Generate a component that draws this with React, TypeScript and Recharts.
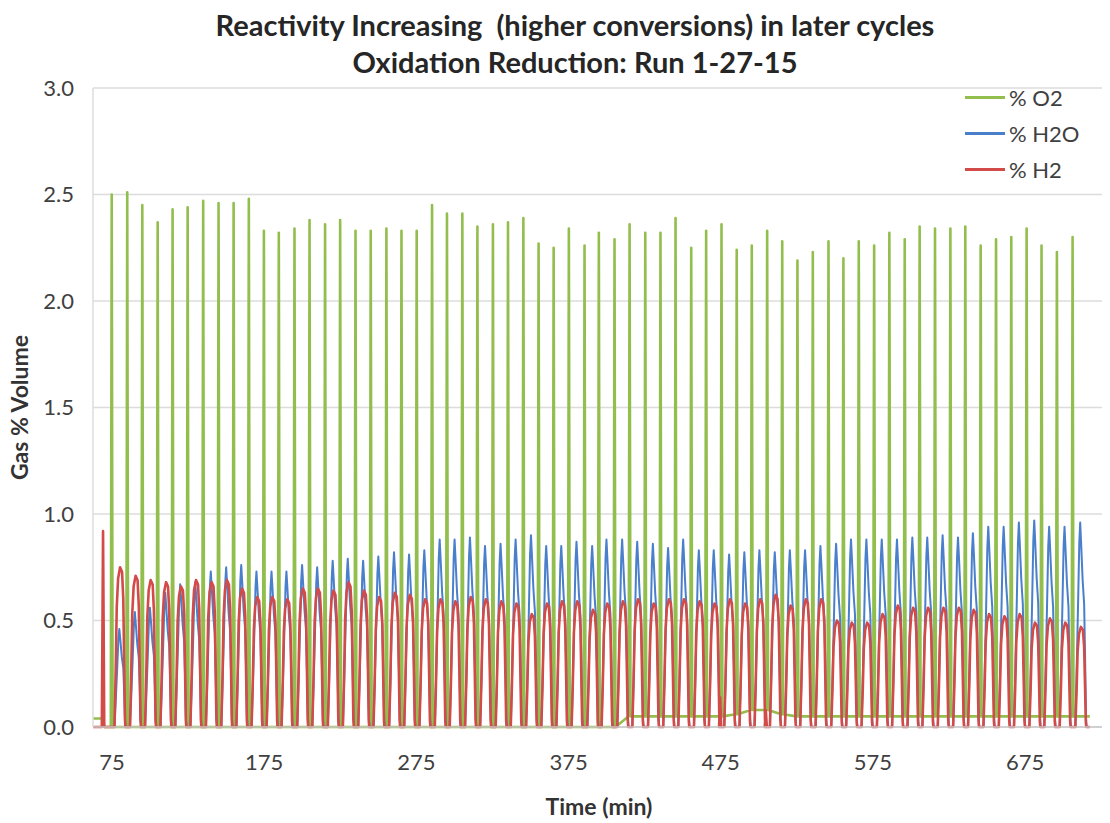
import React from 'react';
import { LineChart, Line, XAxis, YAxis, CartesianGrid } from 'recharts';

// Times (min) of each O2 pulse
const CYCLE_T = [
  74.8, 85.0, 94.9, 105.0, 114.8, 124.7, 134.9, 145.0, 154.9, 164.9, 174.8, 184.6, 194.9, 204.8, 215.0, 224.9,
  235.0, 245.0, 255.3, 265.2, 275.2, 285.3, 295.1, 305.2, 315.1, 325.3, 335.2, 345.3, 355.3, 365.2, 375.2, 385.5, 394.9,
  405.2, 415.1, 425.4, 435.4, 445.3, 455.6, 465.4, 475.5, 485.5, 495.4, 505.5, 515.4, 525.4, 535.5, 545.8, 555.6,
  565.7, 575.8, 585.8, 595.9, 605.7, 615.8, 625.9, 635.7, 645.8, 655.9, 665.9, 676.0, 685.8, 695.9, 706.2,
];

// Peak heights per cycle (% volume)
const O2_PEAK = [
  2.5, 2.51, 2.45, 2.37, 2.43, 2.44, 2.47, 2.46, 2.46, 2.48, 2.33, 2.32, 2.34, 2.38, 2.36, 2.38,
  2.33, 2.33, 2.34, 2.33, 2.33, 2.45, 2.41, 2.41, 2.35, 2.36, 2.37, 2.39, 2.27, 2.25, 2.34, 2.26, 2.32,
  2.29, 2.36, 2.32, 2.32, 2.39, 2.25, 2.33, 2.36, 2.24, 2.26, 2.33, 2.28, 2.19, 2.23, 2.28, 2.2,
  2.28, 2.26, 2.32, 2.29, 2.35, 2.34, 2.34, 2.35, 2.26, 2.29, 2.3, 2.34, 2.26, 2.23, 2.3,
];
const O2_BASE = [
  0, 0, 0, 0, 0, 0, 0, 0, 0, 0, 0, 0, 0, 0, 0, 0,
  0, 0, 0, 0, 0, 0, 0, 0, 0, 0, 0, 0, 0, 0, 0, 0, 0,
  0, 0.05, 0.05, 0.05, 0.05, 0.05, 0.05, 0.05, 0.06, 0.08, 0.08, 0.06, 0.05, 0.05, 0.05, 0.05,
  0.05, 0.05, 0.05, 0.05, 0.05, 0.05, 0.05, 0.05, 0.05, 0.05, 0.05, 0.05, 0.05, 0.05, 0.05,
];
const H2O_PEAK = [
  0.46, 0.54, 0.56, 0.63, 0.67, 0.68, 0.73, 0.75, 0.76, 0.73, 0.73, 0.73, 0.76, 0.75, 0.78, 0.79, 0.78, 0.8,
  0.82, 0.81, 0.83, 0.88, 0.88, 0.89, 0.85, 0.86, 0.88, 0.9, 0.85, 0.85, 0.87, 0.85, 0.88, 0.88, 0.87, 0.86, 0.84, 0.88, 0.83, 0.83, 0.81,
  0.82, 0.83, 0.82, 0.83, 0.83, 0.85, 0.86, 0.88, 0.88, 0.88, 0.88, 0.89, 0.89, 0.9, 0.89, 0.91, 0.94, 0.94, 0.96, 0.97, 0.94, 0.94, 0.96,
];
const H2_PEAK = [
  0.75, 0.71, 0.69, 0.68, 0.66, 0.69, 0.68, 0.69, 0.65, 0.61, 0.61, 0.6, 0.65, 0.65, 0.64, 0.68, 0.64, 0.61,
  0.63, 0.62, 0.6, 0.6, 0.59, 0.61, 0.6, 0.59, 0.58, 0.53, 0.58, 0.59, 0.59, 0.55, 0.58, 0.59, 0.6, 0.58, 0.6, 0.6, 0.59, 0.58, 0.6,
  0.58, 0.6, 0.62, 0.57, 0.6, 0.6, 0.5, 0.49, 0.49, 0.53, 0.57, 0.56, 0.56, 0.56, 0.56, 0.55, 0.53, 0.52, 0.53, 0.49, 0.51, 0.49, 0.47,
];
// Start-up H2 spike and small H2 bumps near some O2 pulses
const H2_SPIKE = { t: 69.1, v: 0.92 };
const H2_BUMPS: [number, number][] = [[40, 0.14], [43, 0.08]];

// Cycle profile read from one period (min after the O2 pulse, fraction of peak)
const O2_SHAPE_T = [-0.6, 0, 0.6];
const H2O_SHAPE_T = [1.8, 2.6, 3.6, 4.4, 5.0, 5.6, 6.6, 7.6, 8.2, 8.8, 9.2];
const H2O_SHAPE_F = [0, 0.25, 0.6, 0.9, 1.0, 0.9, 0.72, 0.6, 0.35, 0.05, 0];
const H2_SHAPE_T = [1.8, 2.6, 3.3, 4.2, 5.5, 6.8, 7.6, 8.2, 8.7, 9.0];
const H2_SHAPE_F = [0, 0.35, 0.75, 0.93, 1.0, 0.97, 0.8, 0.4, 0.05, 0];

const X_DOMAIN: [number, number] = [62.5, 727.5];
const X_TICKS = [75, 175, 275, 375, 475, 575, 675];
const Y_TICKS = [0, 0.5, 1, 1.5, 2, 2.5, 3];

const GREEN = '#92BE4E';
const BLUE = '#4A7FCB';
const RED = '#D24B48';

type P = { t: number; v: number };

function buildO2(): P[] {
  const out: P[] = [{ t: 62.5, v: 0.04 }, { t: 69, v: 0.04 }, { t: 70, v: 0 }];
  CYCLE_T.forEach((t0, i) => {
    out.push({ t: t0 + O2_SHAPE_T[0], v: O2_BASE[i] });
    out.push({ t: t0 + O2_SHAPE_T[1], v: O2_PEAK[i] });
    out.push({ t: t0 + O2_SHAPE_T[2], v: O2_BASE[i] });
  });
  out.push({ t: 717.5, v: 0.05 });
  return out;
}

function buildH2O(): P[] {
  const out: P[] = [{ t: 62.5, v: 0 }];
  CYCLE_T.forEach((t0, i) => {
    H2O_SHAPE_T.forEach((dt, j) => out.push({ t: t0 + dt, v: H2O_PEAK[i] * H2O_SHAPE_F[j] }));
  });
  out.push({ t: 717.5, v: 0 });
  return out;
}

function buildH2(): P[] {
  const out: P[] = [
    { t: 62.5, v: 0 },
    { t: H2_SPIKE.t - 0.8, v: 0 },
    { t: H2_SPIKE.t, v: H2_SPIKE.v },
    { t: H2_SPIKE.t + 0.8, v: 0 },
  ];
  const bumps = new Map(H2_BUMPS);
  CYCLE_T.forEach((t0, i) => {
    if (bumps.has(i)) {
      out.push({ t: t0 - 1.6, v: 0 });
      out.push({ t: t0 - 0.9, v: bumps.get(i) as number });
      out.push({ t: t0 - 0.2, v: 0 });
    }
    H2_SHAPE_T.forEach((dt, j) => out.push({ t: t0 + dt, v: H2_PEAK[i] * H2_SHAPE_F[j] }));
  });
  out.push({ t: 717.5, v: 0 });
  return out;
}

const SERIES = [
  { name: '% O2', color: GREEN, data: buildO2(), width: 2.6 },
  { name: '% H2O', color: BLUE, data: buildH2O(), width: 2 },
  { name: '% H2', color: RED, data: buildH2(), width: 2.6 },
];

const FONT = 'Lato, "Open Sans", sans-serif';

const LegendBox = () => (
  <div
    style={{
      position: 'absolute', top: 79, left: 965, width: 140,
      fontFamily: FONT, fontSize: 22, color: '#404040',
    }}
  >
    {SERIES.map((s) => (
      <div key={s.name} style={{ display: 'flex', alignItems: 'center', height: 36 }}>
        <div style={{ width: 40, height: 3, background: s.color, marginRight: 4 }} />
        <span>{s.name}</span>
      </div>
    ))}
  </div>
);

export default function App() {
  return (
    <div
      style={{
        position: 'relative', width: 1110, height: 823, margin: '-8px 0 0 -8px',
        fontFamily: FONT, background: '#fff', overflow: 'hidden',
      }}
    >
      <div
        style={{
          position: 'absolute', top: 6, left: 0, width: 1150, textAlign: 'center',
          fontWeight: 700, fontSize: 29, color: '#262626', lineHeight: '37px',
        }}
      >
        <div>Reactivity Increasing&nbsp; (higher conversions) in later cycles</div>
        <div>Oxidation Reduction: Run 1-27-15</div>
      </div>
      <LineChart width={1110} height={823} margin={{ top: 88, right: 5, left: 0, bottom: 0 }}>
        <CartesianGrid vertical={false} stroke="#dcdcdc" strokeWidth={1.5} />
        <XAxis
          type="number"
          dataKey="t"
          domain={X_DOMAIN}
          ticks={X_TICKS}
          allowDataOverflow
          height={96}
          tickSize={0}
          tickMargin={27}
          tickLine={false}
          axisLine={{ stroke: '#c8c8c8', strokeWidth: 1.5 }}
          tick={{ fontSize: 22, fill: '#404040', fontFamily: FONT }}
          label={{ value: 'Time (min)', position: 'insideBottom', offset: 8, style: { fontSize: 23, fontWeight: 700, fill: '#333', fontFamily: FONT } }}
        />
        <YAxis
          type="number"
          domain={[0, 3]}
          ticks={Y_TICKS}
          width={93}
          tickSize={0}
          tickMargin={19}
          tickLine={false}
          axisLine={{ stroke: '#dcdcdc', strokeWidth: 1.5 }}
          tickFormatter={(v: number) => v.toFixed(1)}
          tick={{ fontSize: 22, fill: '#404040', fontFamily: FONT }}
          label={{ value: 'Gas % Volume', angle: -90, position: 'insideLeft', offset: 20, style: { textAnchor: 'middle', fontSize: 23, fontWeight: 700, fill: '#333', fontFamily: FONT } }}
        />
        {SERIES.map((s) => (
          <Line
            key={s.name}
            name={s.name}
            data={s.data}
            dataKey="v"
            type="linear"
            stroke={s.color}
            strokeWidth={s.width}
            dot={false}
            activeDot={false}
            isAnimationActive={false}
            strokeLinejoin="round"
          />
        ))}
      </LineChart>
      <LegendBox />
    </div>
  );
}
